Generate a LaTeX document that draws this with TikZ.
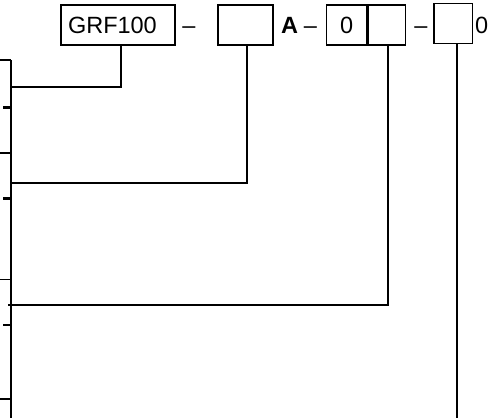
\documentclass[tikz,border=0pt]{standalone}
\usepackage{fontspec}
\setmainfont{Liberation Sans}
\begin{document}
\begin{tikzpicture}[x=1pt,y=-1pt,
  codebox/.style={draw=black,line width=1.3pt,inner sep=0pt,minimum height=40pt,
    text height=17.2pt,text depth=0pt,font=\fontsize{23.5}{28}\selectfont},
  sep/.style={inner sep=0pt,font=\fontsize{23.5}{28}\selectfont,anchor=base},
  conn/.style={line width=1.8pt},
  bar/.style={line width=2.4pt},
  tick/.style={line width=1.6pt},
  stub/.style={line width=2.4pt}]
\useasboundingbox (0,0) rectangle (501,418);
% code boxes
\node[codebox,text width=100pt,align=left,inner xsep=7pt] (grf) at (118,25) {GRF100};
\node[codebox,minimum width=55pt] (b2) at (245.5,25) {};
\node[codebox,minimum width=40pt] (b3a) at (346.7,25) {0};
\node[codebox,minimum width=37.6pt] (b3b) at (386.9,25) {};
\node[codebox,minimum width=38.7pt] (b4) at (453.3,23.7) {};
% separators and fixed letters
\node[sep] (d1) at (189,33.3) {–};
\node[sep] (la) at (289.7,33.3) {\bfseries A};
\node[sep] (d2) at (310.5,33.3) {–};
\node[sep] (d3) at (421,33.3) {–};
\node[sep] (z) at (481.7,33.3) {0};
% left bracket of the cut-off table
\draw[bar] (11,60) -- (11,418);
\foreach \y in {60,152.7,279.3,399} \draw[tick] (0,\y) -- (11,\y);
\foreach \y in {107.3,198.3,325} \draw[stub] (3,\y) -- (11,\y);
% connector end points
\coordinate (e1) at (11,86.7);
\coordinate (e2) at (11,183.3);
\coordinate (e3) at (8,305);
\coordinate (e4) at (457.3,418);
% connectors
\draw[conn] ([xshift=2.7pt]grf.south) |- (e1);
\draw[conn] ([xshift=1.5pt]b2.south) |- (e2);
\draw[conn] ([xshift=1.4pt]b3b.south) |- (e3);
\draw[conn] (b4.south -| e4) -- (e4);
\end{tikzpicture}
\end{document}
